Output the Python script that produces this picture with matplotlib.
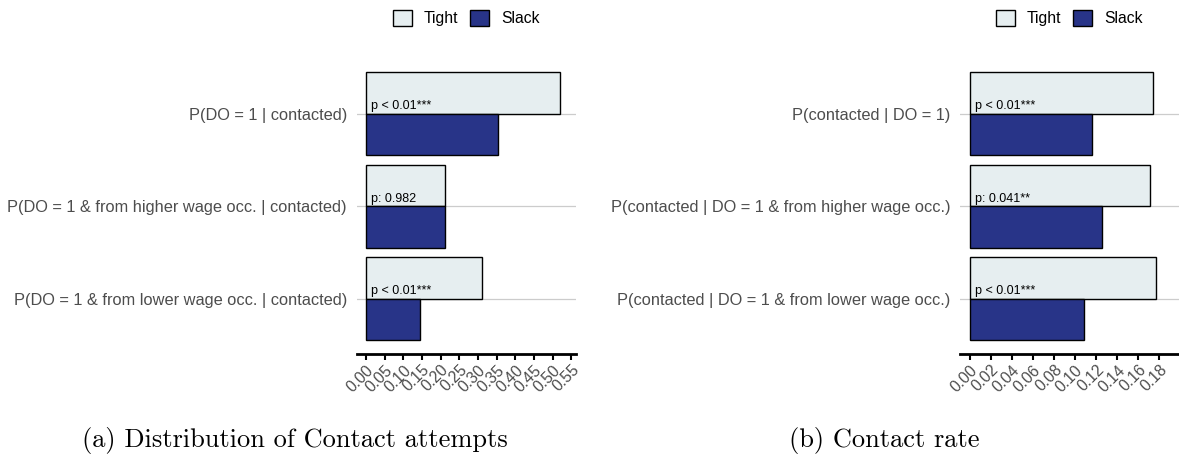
import numpy as np
import matplotlib
matplotlib.use('Agg')
from matplotlib import pyplot as plt
from matplotlib.patches import Patch

plt.rcParams['font.family'] = ['Liberation Sans', 'DejaVu Sans']

# Panel (a): distribution of contact attempts
labels_a = ['P(DO = 1 | contacted)',
            'P(DO = 1 & from higher wage occ. | contacted)',
            'P(DO = 1 & from lower wage occ. | contacted)']
tight_a = [0.520, 0.212, 0.310]
slack_a = [0.355, 0.212, 0.145]
pvals_a = ['p < 0.01***', 'p: 0.982', 'p < 0.01***']
ticks_a = np.arange(0, 0.551, 0.05)

# Panel (b): contact rate
labels_b = ['P(contacted | DO = 1)',
            'P(contacted | DO = 1 & from higher wage occ.)',
            'P(contacted | DO = 1 & from lower wage occ.)']
tight_b = [0.1744, 0.1715, 0.1772]
slack_b = [0.1157, 0.1252, 0.1087]
pvals_b = ['p < 0.01***', 'p: 0.041**', 'p < 0.01***']
ticks_b = np.arange(0, 0.181, 0.02)

TIGHT = '#e6eef0'
SLACK = '#283488'
GREY = '#4d4d4d'


def draw_panel(ax, labels, tight, slack, pvals, ticks, xlim):
    pos = np.arange(len(labels))[::-1] + 1.0
    h = 0.45
    for y in pos:
        ax.axhline(y, color='#cccccc', linewidth=0.9, zorder=0)
    ax.barh(pos + h / 2, tight, height=h, color=TIGHT, edgecolor='black', linewidth=1.0, zorder=2)
    ax.barh(pos - h / 2, slack, height=h, color=SLACK, edgecolor='black', linewidth=1.0, zorder=2)
    for y, txt in zip(pos, pvals):
        ax.annotate(txt, (0, y), xytext=(3.8, 1.2), textcoords='offset points',
                    fontsize=9, color='black', ha='left', va='bottom', zorder=3)
    ax.set_ylim(0.4, 3.6)
    ax.set_xlim(*xlim)
    ax.set_yticks(pos)
    ax.set_yticklabels(labels, fontsize=11.8, color=GREY)
    ax.tick_params(axis='y', length=0, pad=7)
    ax.set_xticks(ticks)
    ax.set_xticklabels([f'{t:.2f}' for t in ticks], rotation=45, ha='right',
                       rotation_mode='anchor', fontsize=11.3, color=GREY)
    ax.tick_params(axis='x', length=4, width=1.5, color='black', pad=2)
    for s in ['top', 'right', 'left']:
        ax.spines[s].set_visible(False)
    ax.spines['bottom'].set_linewidth(2)
    handles = [Patch(facecolor=TIGHT, edgecolor='black', label='Tight'),
               Patch(facecolor=SLACK, edgecolor='black', label='Slack')]
    ax.legend(handles=handles, loc='center', bbox_to_anchor=(0.5, 1.137), ncol=2,
              frameon=False, fontsize=11.3, handlelength=1.2, handleheight=1.2,
              columnspacing=0.75, handletextpad=0.75)


fig = plt.figure(figsize=(11.79, 4.55), dpi=100)
ax1 = fig.add_axes([0.3025, 0.222, 0.186, 0.6495])
ax2 = fig.add_axes([0.8142, 0.222, 0.1858, 0.6495])

draw_panel(ax1, labels_a, tight_a, slack_a, pvals_a, ticks_a, (-0.025, 0.5625))
draw_panel(ax2, labels_b, tight_b, slack_b, pvals_b, ticks_b, (-0.0095, 0.1988))

# subfigure captions, centred under each half as in LaTeX
fig.text(0.25, 1 - 447 / 455, '(a) Distribution of Contact attempts',
         family='cmr10', fontsize=19, ha='center', va='baseline')
fig.text(0.75, 1 - 447 / 455, '(b) Contact rate',
         family='cmr10', fontsize=19, ha='center', va='baseline')

fig.savefig('out.png', dpi=100)
